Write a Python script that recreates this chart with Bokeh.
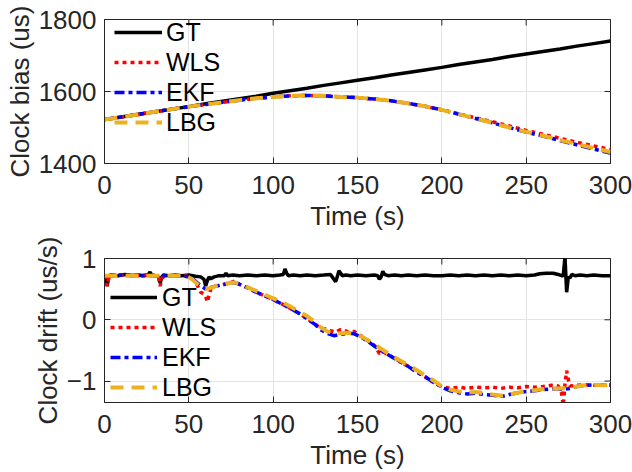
from bokeh.plotting import figure
from bokeh.models import FixedTicker, Legend, LegendItem, Range1d
from bokeh.layouts import column
from bokeh.embed import file_html
from bokeh.resources import INLINE

# ---------------- data ----------------
x_ticks = [0, 50, 100, 150, 200, 250, 300]
bias_ticks = [1400, 1600, 1800]
drift_ticks = [-1, 0, 1]

t_bias = [0, 10, 20, 30, 40, 50, 60, 70, 80, 90, 100, 110, 120, 130, 140, 150,
          160, 170, 180, 190, 200, 210, 220, 230, 240, 250, 260, 270, 280, 290, 300]
gt_bias = [1522, 1529, 1537, 1544, 1551, 1558, 1566, 1573, 1580, 1587, 1595, 1602,
           1609, 1617, 1624, 1631, 1638, 1646, 1653, 1660, 1667, 1675, 1682, 1689,
           1697, 1704, 1711, 1718, 1726, 1733, 1740]
wls_bias = [1522, 1529, 1536, 1544, 1551, 1558, 1564, 1570, 1576, 1581, 1585, 1588,
            1589, 1588, 1585, 1583, 1579, 1574, 1567, 1559, 1549, 1538, 1527, 1516,
            1504, 1492, 1481, 1470, 1459, 1449, 1439]
ekf_bias = [1522, 1529, 1536, 1544, 1551, 1558, 1564, 1570, 1576, 1581, 1585, 1588,
            1589, 1588, 1585, 1583, 1579, 1574, 1567, 1559, 1549, 1537, 1525, 1513,
            1500, 1487, 1476, 1464, 1452, 1440, 1429]
lbg_bias = [1522, 1529, 1536, 1544, 1551, 1558, 1564, 1570, 1576, 1581, 1585, 1588,
            1589, 1588, 1585, 1583, 1579, 1574, 1567, 1559, 1549, 1537, 1525, 1513,
            1500, 1488, 1477, 1465, 1454, 1443, 1432]

gt_t = [0, 1, 1.5, 2, 2.5, 4, 8, 12, 16, 20, 24, 26, 27, 28, 30, 32, 33, 34, 35, 38,
        42, 46, 50, 54, 57, 59, 60, 61, 62, 63, 65, 68, 71, 72, 73, 76, 80, 85, 90,
        95, 100, 104, 106, 107, 108, 109, 112, 116, 120, 125, 130, 134, 136, 137,
        138, 139, 140, 141, 143, 146, 150, 155, 160, 162, 163, 164, 165, 166, 168,
        172, 176, 180, 185, 190, 195, 200, 205, 210, 215, 220, 225, 230, 235, 240,
        245, 250, 255, 258, 262, 266, 269, 271, 272, 273, 274, 275, 276, 277, 279,
        282, 286, 290, 295, 300]
gt_drift = [0.70, 0.68, 0.55, 0.62, 0.72, 0.73, 0.72, 0.74, 0.72, 0.73, 0.72, 0.74,
            0.78, 0.73, 0.72, 0.70, 0.60, 0.70, 0.73, 0.72, 0.73, 0.72, 0.73, 0.71,
            0.70, 0.66, 0.55, 0.64, 0.70, 0.67, 0.70, 0.72, 0.72, 0.76, 0.72, 0.73,
            0.72, 0.73, 0.72, 0.73, 0.72, 0.73, 0.74, 0.83, 0.76, 0.72, 0.73, 0.72,
            0.73, 0.72, 0.73, 0.74, 0.66, 0.62, 0.70, 0.80, 0.76, 0.72, 0.73, 0.72,
            0.73, 0.72, 0.73, 0.72, 0.66, 0.70, 0.79, 0.74, 0.72, 0.73, 0.72, 0.73,
            0.72, 0.73, 0.72, 0.72, 0.73, 0.72, 0.73, 0.72, 0.73, 0.72, 0.73, 0.72,
            0.73, 0.72, 0.73, 0.75, 0.76, 0.76, 0.74, 0.72, 0.72, 1.03, 0.45, 0.70,
            0.68, 0.74, 0.72, 0.73, 0.72, 0.73, 0.72, 0.72]

wls_t = [0, 1, 1.5, 2, 3, 10, 20, 27, 30, 32, 33, 34, 36, 45, 50, 54, 57, 59, 60, 61,
         62, 63, 66, 70, 74, 77, 80, 85, 90, 95, 100, 105, 110, 115, 120, 125, 128,
         131, 134, 137, 140, 144, 148, 152, 156, 160, 163, 165, 170, 175, 180, 185,
         190, 195, 200, 205, 210, 215, 220, 225, 230, 235, 240, 245, 250, 255, 260,
         265, 269, 271, 272, 273, 274, 275, 276, 280, 285, 290, 295, 300]
wls_drift = [0.72, 0.70, 0.55, 0.62, 0.72, 0.73, 0.72, 0.74, 0.72, 0.70, 0.55, 0.68,
             0.72, 0.72, 0.71, 0.62, 0.45, 0.42, 0.38, 0.29, 0.40, 0.50, 0.55, 0.57,
             0.60, 0.63, 0.58, 0.52, 0.45, 0.39, 0.33, 0.26, 0.19, 0.11, 0.02, -0.07,
             -0.14, -0.15, -0.18, -0.20, -0.16, -0.19, -0.19, -0.26, -0.34, -0.42,
             -0.55, -0.52, -0.60, -0.68, -0.76, -0.85, -0.93, -1.02, -1.09, -1.12,
             -1.10, -1.12, -1.10, -1.11, -1.10, -1.12, -1.10, -1.11, -1.09, -1.10,
             -1.09, -1.07, -1.08, -1.20, -1.40, -1.05, -0.83, -0.98, -1.08, -1.07,
             -1.06, -1.07, -1.06, -1.07]

ekf_t = [0, 5, 10, 20, 30, 40, 48, 52, 56, 60, 62, 66, 70, 74, 77, 80, 85, 90, 95,
         100, 105, 110, 115, 120, 125, 128, 132, 136, 140, 145, 148, 152, 156, 160,
         165, 170, 175, 180, 185, 190, 195, 200, 205, 210, 215, 220, 225, 230, 236,
         240, 245, 250, 255, 260, 265, 268, 272, 276, 280, 285, 290, 295, 300]
ekf_drift = [0.72, 0.72, 0.73, 0.72, 0.72, 0.72, 0.71, 0.68, 0.58, 0.50, 0.52, 0.55,
             0.57, 0.60, 0.61, 0.58, 0.52, 0.45, 0.39, 0.33, 0.26, 0.19, 0.11, 0.02,
             -0.08, -0.16, -0.22, -0.26, -0.24, -0.22, -0.23, -0.28, -0.35, -0.43,
             -0.52, -0.60, -0.68, -0.76, -0.85, -0.93, -1.02, -1.10, -1.16, -1.19,
             -1.21, -1.20, -1.22, -1.23, -1.25, -1.22, -1.19, -1.17, -1.16, -1.14,
             -1.13, -1.12, -1.14, -1.12, -1.09, -1.07, -1.06, -1.07, -1.06]

lbg_t = [0, 10, 20, 30, 40, 48, 52, 56, 60, 63, 66, 70, 74, 77, 80, 85, 90, 95, 100,
         105, 110, 115, 120, 125, 128, 132, 136, 140, 145, 148, 152, 156, 160, 165,
         170, 175, 180, 185, 190, 195, 200, 205, 210, 215, 220, 225, 230, 236, 240,
         245, 250, 255, 260, 265, 270, 275, 280, 285, 290, 295, 300]
lbg_drift = [0.72, 0.72, 0.72, 0.72, 0.72, 0.72, 0.66, 0.56, 0.50, 0.52, 0.55, 0.57,
             0.60, 0.61, 0.59, 0.53, 0.47, 0.41, 0.35, 0.29, 0.22, 0.14, 0.06, -0.04,
             -0.12, -0.19, -0.22, -0.22, -0.21, -0.22, -0.27, -0.33, -0.40, -0.49,
             -0.58, -0.66, -0.74, -0.82, -0.91, -0.99, -1.09, -1.14, -1.17, -1.19,
             -1.18, -1.20, -1.22, -1.24, -1.22, -1.19, -1.17, -1.15, -1.13, -1.12,
             -1.12, -1.11, -1.09, -1.07, -1.06, -1.07, -1.06]

labels = ["GT", "WLS", "EKF", "LBG"]

# ---------------- styling ----------------
FONT = "Liberation Sans"
TXT = "#262626"
FS = "26px"
LFS = "25px"
C_GT, C_WLS, C_EKF, C_LBG = "#000000", "#FF0000", "#0000FF", "#EDB120"


def make_fig(y0, y1, yticks, ylabel, top_border, bottom_border, height):
    p = figure(width=632, height=height, output_backend="svg", toolbar_location=None,
               x_range=Range1d(0, 300), y_range=Range1d(y0, y1),
               min_border_left=104, min_border_right=22,
               min_border_top=top_border, min_border_bottom=bottom_border)
    p.frame_width = 506
    p.frame_height = 144
    p.background_fill_color = "white"
    p.border_fill_color = "white"
    p.outline_line_color = TXT
    p.outline_line_width = 1
    for ax in p.xaxis + p.yaxis:
        ax.major_label_text_font = FONT
        ax.major_label_text_font_size = FS
        ax.major_label_text_color = TXT
        ax.axis_label_text_font = FONT
        ax.axis_label_text_font_size = FS
        ax.axis_label_text_font_style = "normal"
        ax.axis_label_text_color = TXT
        ax.axis_line_color = TXT
        ax.major_tick_line_color = TXT
        ax.major_tick_in = 6
        ax.major_tick_out = 0
        ax.minor_tick_line_color = None
    p.xaxis.ticker = FixedTicker(ticks=x_ticks)
    p.yaxis.ticker = FixedTicker(ticks=yticks)
    p.xaxis.axis_label = "Time (s)"
    p.yaxis.axis_label = ylabel
    p.xaxis.major_label_standoff = 12
    p.xaxis.axis_label_standoff = 4
    p.yaxis.major_label_standoff = 8
    p.yaxis.axis_label_standoff = 1
    p.xgrid.ticker = FixedTicker(ticks=x_ticks)
    p.ygrid.ticker = FixedTicker(ticks=yticks)
    p.grid.grid_line_color = "#E3E3E3"
    p.grid.grid_line_width = 1
    # mirrored inward ticks on the top and right edges (box on); half of each
    # 12px dash marker is clipped by the frame, leaving a 6px inward tick
    p.scatter(x=x_ticks, y=[y1] * len(x_ticks), marker="dash", size=12,
              angle=1.5708, line_color=TXT, line_width=1)
    p.scatter(x=[300] * len(yticks), y=yticks, marker="dash", size=12,
              line_color=TXT, line_width=1)
    return p


def add_lines(p, tg, yg, tw, yw, te, ye, tl, yl):
    r1 = p.line(tg, yg, line_color=C_GT, line_width=3.5)
    r2 = p.line(tw, yw, line_color=C_WLS, line_width=3.5, line_dash="4 4")
    r3 = p.line(te, ye, line_color=C_EKF, line_width=3.5, line_dash="10 4 4 4")
    r4 = p.line(tl, yl, line_color=C_LBG, line_width=4, line_dash="13 8")
    return [r1, r2, r3, r4]


def add_legend(p, renderers, location, gw, standoff):
    items = [LegendItem(label=lab, renderers=[r]) for lab, r in zip(labels, renderers)]
    lg = Legend(items=items, location=location, margin=0, padding=0,
                label_text_font=FONT, label_text_font_size=LFS, label_text_color="#000000",
                glyph_width=gw, glyph_height=30, label_height=30, label_standoff=standoff,
                spacing=0, background_fill_alpha=0, border_line_alpha=0)
    p.add_layout(lg, "center")


p1 = make_fig(1400, 1800, bias_ticks, "Clock bias (us)", 19, 73, 236)
r_top = add_lines(p1, t_bias, gt_bias, t_bias, wls_bias, t_bias, ekf_bias, t_bias, lbg_bias)
add_legend(p1, r_top, (10, 26), 48, 4)

p2 = make_fig(-1.35, 1, drift_ticks, "Clock drift (us/s)", 22, 70, 236)
r_bot = add_lines(p2, gt_t, gt_drift, wls_t, wls_drift, ekf_t, ekf_drift, lbg_t, lbg_drift)
add_legend(p2, r_bot, (6, 0), 47, 5)

layout = column(p1, p2, spacing=0)

open("out.html", "w").write(file_html(layout, INLINE))
